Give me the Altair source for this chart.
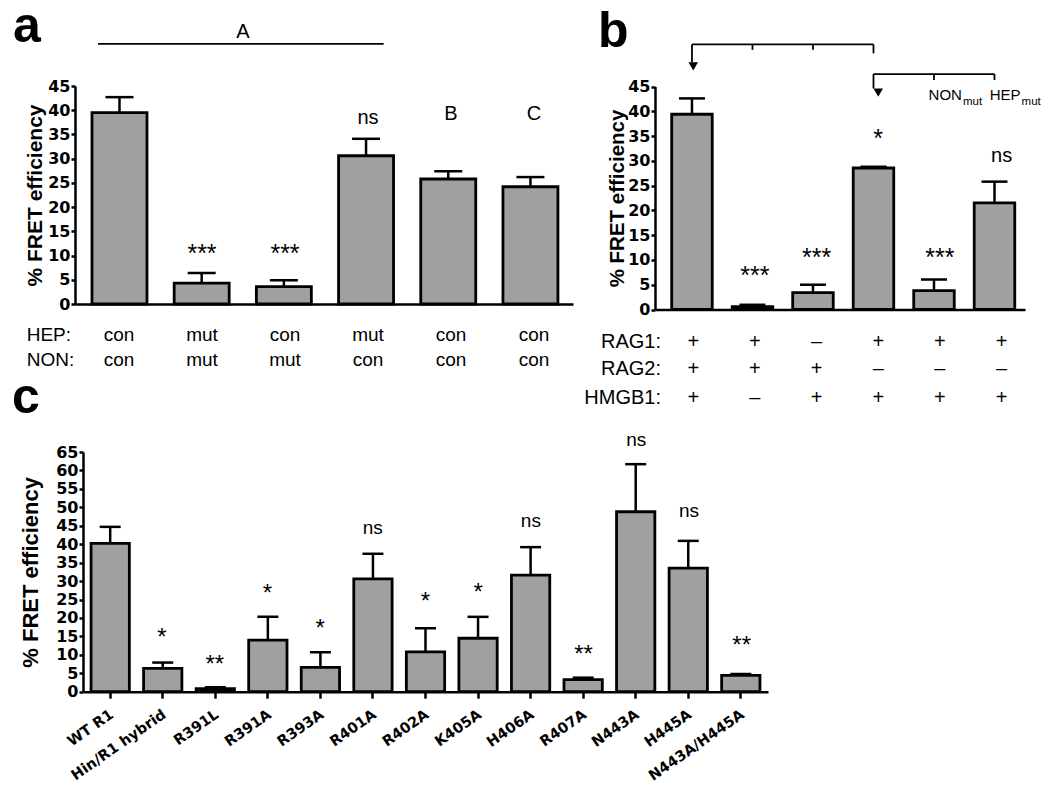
import altair as alt
import pandas as pd

FONT = "Liberation Sans"
TICKFONT = "DejaVu Sans"
BAR_FILL = "#a0a0a0"
LW = 2.5
BAR_LW = 2.8
W, H = 1034, 780

# ---------------- panel a data ----------------
a_ids = ["1", "2", "3", "4", "5", "6"]
a_hep = ["con", "mut", "con", "mut", "con", "con"]
a_non = ["con", "mut", "mut", "con", "con", "con"]
a_mean = [39.5, 4.3, 3.6, 30.6, 25.8, 24.2]
a_err = [42.7, 6.4, 4.9, 34.1, 27.4, 26.2]
a_star_ids = ["2", "3"]
a_star_text = ["***", "***"]
a_star_y = [8.6, 8.6]
a_note_ids = ["4", "5", "6"]
a_note_text = ["ns", "B", "C"]
a_note_y = [37.2, 38.0, 38.0]
a_row_titles = ["HEP:", "NON:"]
a_row_y = [-7.6, -12.8]
a_group = {"s": ["1"], "e": ["4"], "y": [53.7]}
a_group_label = {"id": ["2"], "t": ["A"], "y": [55.0]}

# ---------------- panel b data ----------------
b_ids = ["1", "2", "3", "4", "5", "6"]
b_rag1 = ["+", "+", "–", "+", "+", "+"]
b_rag2 = ["+", "+", "+", "–", "–", "–"]
b_hmgb1 = ["+", "–", "+", "+", "+", "+"]
b_mean = [39.4, 0.6, 3.4, 28.55, 3.8, 21.5]
b_err = [42.6, 0.95, 5.0, 28.8, 6.05, 25.8]
b_star_ids = ["2", "3", "4", "5"]
b_star_text = ["***", "***", "*", "***"]
b_star_y = [5.1, 8.8, 32.7, 8.8]
b_note_ids = ["6"]
b_note_text = ["ns"]
b_note_y = [29.7]
b_row_titles = ["RAG1:", "RAG2:", "HMGB1:"]
b_row_y = [-7.8, -13.3, -19.1]
b_bracket_h_start = ["1", "4"]
b_bracket_h_end = ["4", "6"]
b_bracket_h_y = [53.5, 47.5]
b_bracket_v_ids = ["1", "2", "3", "4", "4", "5", "6"]
b_bracket_v_top = [53.5, 53.5, 53.5, 53.5, 47.5, 47.5, 47.5]
b_bracket_v_bot = [49.9, 52.4, 52.4, 51.7, 44.6, 46.3, 46.3]
b_arrow_ids = ["1", "4"]
b_arrow_y = [49.05, 43.75]
b_non_label = ("5", "NON", "mut")
b_hep_label = ("6", "HEP", "mut")
b_sub_y = 42.3
b_sub_small_y = 41.3

# ---------------- panel c data ----------------
c_names = ["WT R1", "Hin/R1 hybrid", "R391L", "R391A", "R393A", "R401A", "R402A",
           "K405A", "H406A", "R407A", "N443A", "H445A", "N443A/H445A"]
c_mean = [40.2, 6.3, 0.8, 14.0, 6.6, 30.6, 10.8, 14.5, 31.6, 3.3, 48.8, 33.5, 4.45]
c_err = [44.7, 7.9, 1.2, 20.3, 10.7, 37.4, 17.2, 20.3, 39.2, 3.8, 61.7, 40.9, 4.8]
c_star_ids = ["Hin/R1 hybrid", "R391L", "R391A", "R393A", "R402A", "K405A", "R407A", "N443A/H445A"]
c_star_text = ["*", "**", "*", "*", "*", "*", "**", "**"]
c_star_y = [12.6, 5.4, 24.6, 15.1, 22.5, 24.8, 8.1, 10.6]
c_note_ids = ["R401A", "H406A", "N443A", "H445A"]
c_note_text = ["ns", "ns", "ns", "ns"]
c_note_y = [42.7, 44.7, 66.7, 47.3]


def yaxis(ymax, title_size, title_pad, offset):
    return alt.Axis(orient="left", offset=offset,
                    values=list(range(0, ymax + 1, 5)), grid=False,
                    domainColor="black", domainWidth=LW, tickColor="black",
                    tickWidth=LW, tickSize=4, labelFont=TICKFONT,
                    labelFontWeight="bold", labelFontSize=16, labelColor="black",
                    labelPadding=1, labelFlush=False, labelOverlap=False,
                    title="% FRET efficiency", titleFont=FONT,
                    titleFontWeight="bold", titleFontSize=title_size,
                    titleColor="black", titlePadding=title_pad)


def plain_xaxis(offset):
    return alt.Axis(orient="bottom", offset=offset, labels=False, ticks=False,
                    title=None, grid=False, domainColor="black", domainWidth=LW)


def bar_layers(ids, mean, err, xs, ys, xax, yax, cap):
    df = pd.DataFrame({"id": ids, "mean": mean, "err": err})
    base = alt.Chart(df)
    bars = base.mark_bar(color=BAR_FILL, stroke="black", strokeWidth=BAR_LW).encode(
        x=alt.X("id:N", scale=xs, axis=xax),
        y=alt.Y("mean:Q", scale=ys, axis=yax))
    rule = base.mark_rule(color="black", strokeWidth=LW).encode(
        x=alt.X("id:N", scale=xs, axis=None),
        y=alt.Y("mean:Q", scale=ys, axis=None), y2="err:Q")
    tick = base.mark_tick(color="black", thickness=LW, size=cap, opacity=1).encode(
        x=alt.X("id:N", scale=xs, axis=None),
        y=alt.Y("err:Q", scale=ys, axis=None))
    return [bars, rule, tick]


def text_layer(ids, texts, ys_vals, xs, ys, size, dx=0, align="center"):
    df = pd.DataFrame({"id": ids, "t": texts, "y": ys_vals})
    return alt.Chart(df).mark_text(font=FONT, fontSize=size, baseline="alphabetic",
                                   align=align, dx=dx, color="black").encode(
        x=alt.X("id:N", scale=xs, axis=None),
        y=alt.Y("y:Q", scale=ys, axis=None), text="t:N")


def row_header(titles, yvals, xpx, ys, size, align):
    df = pd.DataFrame({"t": titles, "y": yvals})
    return alt.Chart(df).mark_text(font=FONT, fontSize=size, baseline="alphabetic",
                                   align=align, color="black").encode(
        x=alt.value(xpx), y=alt.Y("y:Q", scale=ys, axis=None), text="t:N")


def panel_label(letter, xpx, ypx):
    return alt.Chart(pd.DataFrame({"t": [letter]})).mark_text(
        font=FONT, fontSize=50, fontWeight="bold", align="left",
        baseline="alphabetic", color="black").encode(
        x=alt.value(xpx), y=alt.value(ypx), text="t:N")


def sub_label(spec, xs, ys, dx_main, dx_sub):
    bar_id, main, small = spec
    return [
        text_layer([bar_id], [main], [b_sub_y], xs, ys, 15, dx=dx_main, align="right"),
        text_layer([bar_id], [small], [b_sub_small_y], xs, ys, 11.5, dx=dx_sub, align="left"),
    ]


# ---------------- panel a ----------------
xa = alt.Scale(domain=a_ids, range=[67, 565], paddingInner=0.331,
               paddingOuter=0.195, align=0.53)
ya = alt.Scale(domain=[0, 45], range=[296, 78], nice=False, zero=True)
layers = bar_layers(a_ids, a_mean, a_err, xa, ya, plain_xaxis(296 - H),
                    yaxis(45, 21, 2, -67), 28)
layers += [
    text_layer(a_star_ids, a_star_text, a_star_y, xa, ya, 25),
    text_layer(a_note_ids, a_note_text, a_note_y, xa, ya, 20),
    text_layer(a_ids, a_hep, [a_row_y[0]] * 6, xa, ya, 19),
    text_layer(a_ids, a_non, [a_row_y[1]] * 6, xa, ya, 19),
    row_header(a_row_titles, a_row_y, 18.7, ya, 19, "left"),
    alt.Chart(pd.DataFrame(a_group)).mark_rule(color="black", strokeWidth=1.6).encode(
        x=alt.X("s:N", scale=xa, axis=None, bandPosition=0.11),
        x2=alt.X2("e:N", bandPosition=0.82),
        y=alt.Y("y:Q", scale=ya, axis=None)),
    text_layer(a_group_label["id"], a_group_label["t"], a_group_label["y"], xa, ya, 20, dx=41),
    panel_label("a", 5, 34),
]

# ---------------- panel b ----------------
xb = alt.Scale(domain=b_ids, range=[647, 1017], paddingInner=0.33,
               paddingOuter=0.2225, align=0.62)
yb = alt.Scale(domain=[0, 45], range=[301.5, 78.5], nice=False, zero=True)
layers += bar_layers(b_ids, b_mean, b_err, xb, yb, plain_xaxis(301.5 - H),
                     yaxis(45, 20.5, 0.5, -647), 26)
bh = pd.DataFrame({"s": b_bracket_h_start, "e": b_bracket_h_end, "y": b_bracket_h_y})
bv = pd.DataFrame({"id": b_bracket_v_ids, "y1": b_bracket_v_top, "y2": b_bracket_v_bot})
barr = pd.DataFrame({"id": b_arrow_ids, "y": b_arrow_y})
layers += [
    text_layer(b_star_ids, b_star_text, b_star_y, xb, yb, 25),
    text_layer(b_note_ids, b_note_text, b_note_y, xb, yb, 20),
    text_layer(b_ids, b_rag1, [b_row_y[0]] * 6, xb, yb, 20),
    text_layer(b_ids, b_rag2, [b_row_y[1]] * 6, xb, yb, 20),
    text_layer(b_ids, b_hmgb1, [b_row_y[2]] * 6, xb, yb, 20),
    row_header(b_row_titles, b_row_y, 653, yb, 20, "right"),
    alt.Chart(bh).mark_rule(color="black", strokeWidth=1.8).encode(
        x=alt.X("s:N", scale=xb, axis=None, bandPosition=0.5),
        x2=alt.X2("e:N", bandPosition=0.5),
        y=alt.Y("y:Q", scale=yb, axis=None)),
    alt.Chart(bv).mark_rule(color="black", strokeWidth=1.8).encode(
        x=alt.X("id:N", scale=xb, axis=None),
        y=alt.Y("y1:Q", scale=yb, axis=None), y2="y2:Q"),
    alt.Chart(barr).mark_point(shape="triangle-down", filled=True, size=90,
                               color="black", opacity=1).encode(
        x=alt.X("id:N", scale=xb, axis=None),
        y=alt.Y("y:Q", scale=yb, axis=None)),
    panel_label("b", 590, 39),
]
layers += sub_label(b_non_label, xb, yb, 22, 23)
layers += sub_label(b_hep_label, xb, yb, 19, 20)

# ---------------- panel c ----------------
xc = alt.Scale(domain=c_names, range=[75, 760], paddingInner=0.271, paddingOuter=0.153)
yc = alt.Scale(domain=[0, 65], range=[683.7, 444], nice=False, zero=True)
c_xaxis = alt.Axis(orient="bottom", offset=683.7 - H, title=None, grid=False,
                   domainColor="black", domainWidth=LW,
                   tickColor="black", tickWidth=LW, tickSize=6.5,
                   labelFont=TICKFONT, labelFontWeight="bold", labelFontSize=14.5,
                   labelColor="black", labelAngle=-35, labelAlign="right",
                   labelBaseline="top", labelPadding=9, labelOffset=-2,
                   labelOverlap=False)
layers += bar_layers(c_names, c_mean, c_err, xc, yc, c_xaxis,
                     yaxis(65, 22, 13, -75), 21)
layers += [
    text_layer(c_star_ids, c_star_text, c_star_y, xc, yc, 24),
    text_layer(c_note_ids, c_note_text, c_note_y, xc, yc, 19),
    panel_label("c", 4, 405),
]

chart = alt.layer(*layers).resolve_scale(
    x="independent", y="independent"
).resolve_axis(
    x="independent", y="independent"
).properties(
    width=W, height=H,
    autosize=alt.AutoSizeParams(type="none"), padding=0,
).configure(font=FONT).configure_view(stroke=None)

chart.save("out.html", embed_options={"renderer": "svg", "actions": False})
